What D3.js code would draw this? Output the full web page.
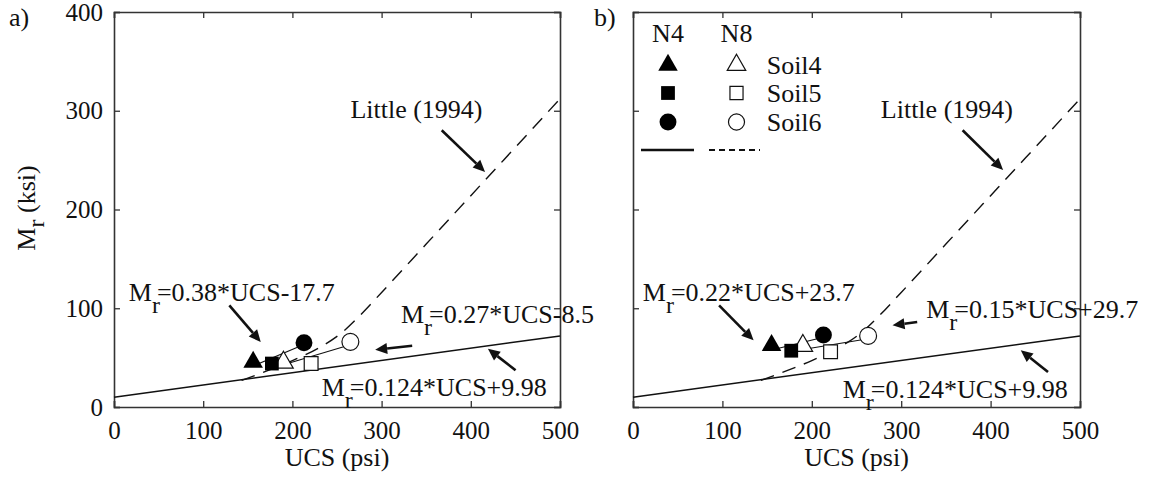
<!DOCTYPE html>
<html><head><meta charset="utf-8">
<script src="https://cdn.jsdelivr.net/npm/d3@7"></script>
<style>body{margin:0;background:#fff}text{font-family:"Liberation Serif","Times New Roman",serif;fill:#111}</style>
</head><body><svg id="c" width="1149" height="480" font-family="Liberation Serif, Times New Roman, serif"></svg>
<script>
// ---- data ----
const xTicks = [0, 100, 200, 300, 400, 500];
const yTicks = [0, 100, 200, 300, 400];
const soils = ["Soil4", "Soil5", "Soil6"];
const panels = ["a)", "b)"];
// measured points (UCS psi, Mr ksi)
const aN4UCS = [156, 177, 213], aN4Mr = [45.5, 44, 65];
const aN8UCS = [190, 221, 265], aN8Mr = [45, 44, 66];
const bN4UCS = [155, 177, 213], bN4Mr = [62.5, 57, 73];
const bN8UCS = [190, 221, 263], bN8Mr = [62, 56, 72];
// fitted lines: slope, intercept
const aFitN4 = [0.38, -17.7], aFitN8 = [0.27, -8.5];
const bFitN4 = [0.22, 23.7], bFitN8 = [0.15, 29.7];
const solidFit = [0.124, 9.98];
// Little (1994) dashed curve
const littleUCS = [143, 170, 200, 230, 255, 275, 300, 350, 400, 450, 500];
const littleMr  = [27, 36, 47, 60, 75, 92, 116, 165, 214, 263, 312];
// annotation labels
const aLabels = ["=0.38*UCS-17.7", "=0.27*UCS-8.5", "=0.124*UCS+9.98"];
const bLabels = ["=0.22*UCS+23.7", "=0.15*UCS+29.7", "=0.124*UCS+9.98"];

// ---- layout ----
const svg = d3.select("#c");
const TOP = 12, H = 395;
const boxes = [{left: 114, W: 446}, {left: 633, W: 447}];
const FS = 26;
const FF = "Liberation Serif, Times New Roman, serif";

const xScale = b => d3.scaleLinear().domain([0, 500]).range([0, b.W]);
const yScale = d3.scaleLinear().domain([0, 400]).range([H, 0]);

function sym(type, size) {
  const t = type === "triangle" ? d3.symbolTriangle : type === "square" ? d3.symbolSquare : d3.symbolCircle;
  return d3.symbol().type(t).size(size)();
}
const shapes = ["triangle", "square", "circle"];
const sizes = {triangle: 165, square: 190, circle: 225};

function mText(g, px, py, label) {
  const t = g.append("text").attr("x", px).attr("y", py).attr("dy", "0.35em")
    .attr("font-size", FS).attr("font-family", FF);
  t.append("tspan").text("M");
  t.append("tspan").attr("font-size", 24).attr("dy", 12).text("r");
  t.append("tspan").attr("dy", -12).attr("dx", -3).text(label);
  return t;
}

function arrow(g, x1, y1, x2, y2) {
  const ang = Math.atan2(y2 - y1, x2 - x1);
  const L = 12, Wd = 5.5;
  const bx = x2 - L * Math.cos(ang), by = y2 - L * Math.sin(ang);
  g.append("line").attr("x1", x1).attr("y1", y1).attr("x2", bx).attr("y2", by)
    .attr("stroke", "#111").attr("stroke-width", 2.6);
  const px = -Math.sin(ang), py = Math.cos(ang);
  g.append("path").attr("d", `M${x2},${y2}L${bx + px * Wd},${by + py * Wd}L${bx - px * Wd},${by - py * Wd}Z`)
    .attr("fill", "#111");
}

// annotation positions in data units
const annA = {
  little: {t: [265, 302], a: [367.4, 280.2, 416, 238]},
  f1: {t: [16.6, 116.5], a: [129.3, 103, 164.5, 65.8]},
  f2: {t: [321.7, 94.5], a: [334.3, 62, 292.8, 58]},
  f3: {t: [232.9, 20.3], a: [450.2, 37.2, 419.2, 59]}
};
const annB = {
  little: {t: [277.2, 302], a: [368.7, 280.2, 414, 240]},
  f1: {t: [11, 116.5], a: [96.3, 103, 134.9, 67.5]},
  f2: {t: [328, 99.5], a: [317.9, 86, 290.3, 82.7]},
  f3: {t: [234.6, 18.5], a: [464.2, 35.4, 433.7, 57.4]}
};

const pdata = [
  {n4u: aN4UCS, n4m: aN4Mr, n8u: aN8UCS, n8m: aN8Mr, f4: aFitN4, f8: aFitN8, labels: aLabels, ann: annA},
  {n4u: bN4UCS, n4m: bN4Mr, n8u: bN8UCS, n8m: bN8Mr, f4: bFitN4, f8: bFitN8, labels: bLabels, ann: annB}
];

boxes.forEach((b, i) => {
  const xs = xScale(b), y = yScale;
  const g = svg.append("g").attr("transform", `translate(${b.left},${TOP})`);
  const d = pdata[i];

  // axes
  const ax = g.append("g").attr("transform", `translate(0,${H})`)
    .call(d3.axisBottom(xs).tickValues(xTicks).tickSize(-6).tickPadding(14.5).tickFormat(d3.format("d")));
  const axT = g.append("g").call(d3.axisTop(xs).tickValues(xTicks).tickSize(-6).tickFormat(""));
  const ayL = g.append("g").call(d3.axisLeft(y).tickValues(yTicks).tickSize(-6).tickPadding(11)
    .tickFormat(i === 0 ? d3.format("d") : ""));
  const ayR = g.append("g").attr("transform", `translate(${b.W},0)`)
    .call(d3.axisRight(y).tickValues(yTicks).tickSize(-6).tickFormat(""));
  [ax, axT, ayL, ayR].forEach(a => {
    a.attr("font-family", FF);
    a.selectAll("path").attr("stroke", "#333").attr("stroke-width", 1.6);
    a.selectAll("line").attr("stroke", "#333").attr("stroke-width", 1.3);
    a.selectAll("text").attr("font-size", 25).attr("font-family", FF).attr("fill", "#111");
  });

  // solid reference line
  g.append("line").attr("x1", xs(0)).attr("y1", y(solidFit[1]))
    .attr("x2", xs(500)).attr("y2", y(solidFit[0] * 500 + solidFit[1]))
    .attr("stroke", "#111").attr("stroke-width", 1.5);

  // Little dashed curve
  const lpts = littleUCS.map((u, k) => [u, littleMr[k]]);
  g.append("path").attr("d", d3.line().x(p => xs(p[0])).y(p => y(p[1])).curve(d3.curveMonotoneX)(lpts))
    .attr("fill", "none").attr("stroke", "#111").attr("stroke-width", 1.4).attr("stroke-dasharray", "14,9");

  // fit lines
  [[d.f4, d.n4u], [d.f8, d.n8u]].forEach(([f, us]) => {
    const u0 = d3.min(us), u1 = d3.max(us);
    g.append("line").attr("x1", xs(u0)).attr("y1", y(f[0] * u0 + f[1]))
      .attr("x2", xs(u1)).attr("y2", y(f[0] * u1 + f[1]))
      .attr("stroke", "#111").attr("stroke-width", 1.1);
  });

  // markers
  d.n8u.forEach((u, k) => {
    g.append("path").attr("d", sym(shapes[k], sizes[shapes[k]]))
      .attr("transform", `translate(${xs(u)},${y(d.n8m[k])})`)
      .attr("fill", "#fff").attr("stroke", "#111").attr("stroke-width", 1.2);
  });
  d.n4u.forEach((u, k) => {
    g.append("path").attr("d", sym(shapes[k], sizes[shapes[k]]))
      .attr("transform", `translate(${xs(u)},${y(d.n4m[k])})`)
      .attr("fill", "#000");
  });

  // annotations
  const A = d.ann;
  g.append("text").attr("x", xs(A.little.t[0])).attr("y", y(A.little.t[1])).attr("dy", "0.35em")
    .attr("font-size", FS).attr("font-family", FF).text("Little (1994)");
  arrow(g, xs(A.little.a[0]), y(A.little.a[1]), xs(A.little.a[2]), y(A.little.a[3]));
  ["f1", "f2", "f3"].forEach((key, k) => {
    mText(g, xs(A[key].t[0]), y(A[key].t[1]), d.labels[k]);
    arrow(g, xs(A[key].a[0]), y(A[key].a[1]), xs(A[key].a[2]), y(A[key].a[3]));
  });

  // x title
  g.append("text").attr("x", b.W / 2).attr("y", H + 59).attr("text-anchor", "middle")
    .attr("font-size", FS).attr("font-family", FF).text("UCS (psi)");

  // panel label
  svg.append("text").attr("x", i === 0 ? 9 : 594).attr("y", 17).attr("dy", "0.35em")
    .attr("font-size", FS).attr("font-family", FF).text(panels[i]);
});

// y title
const yt = svg.append("text").attr("transform", "translate(35,208) rotate(-90)")
  .attr("text-anchor", "middle").attr("font-size", FS).attr("font-family", FF);
yt.append("tspan").text("M");
yt.append("tspan").attr("dy", 9).attr("font-size", 24).text("r");
yt.append("tspan").attr("dy", -9).text(" (ksi)");

// legend in panel b
const lg = svg.append("g").attr("transform", `translate(${boxes[1].left},${TOP})`).attr("font-family", FF);
const colN4 = 35, colN8 = 103.5, colTxt = 133.7;
const rowY = [53, 81, 110];
lg.append("text").attr("x", colN4).attr("y", 21).attr("dy", "0.35em").attr("text-anchor", "middle").attr("font-size", FS).text("N4");
lg.append("text").attr("x", colN8).attr("y", 21).attr("dy", "0.35em").attr("text-anchor", "middle").attr("font-size", FS).text("N8");
soils.forEach((s, k) => {
  lg.append("path").attr("d", sym(shapes[k], sizes[shapes[k]])).attr("transform", `translate(${colN4},${rowY[k]})`).attr("fill", "#000");
  lg.append("path").attr("d", sym(shapes[k], sizes[shapes[k]] * 0.9)).attr("transform", `translate(${colN8},${rowY[k]})`)
    .attr("fill", "#fff").attr("stroke", "#111").attr("stroke-width", 1.2);
  lg.append("text").attr("x", colTxt).attr("y", rowY[k]).attr("dy", "0.35em").attr("font-size", FS).text(s);
});
lg.append("line").attr("x1", 8).attr("x2", 61).attr("y1", 138).attr("y2", 138).attr("stroke", "#111").attr("stroke-width", 2.4);
lg.append("line").attr("x1", 76).attr("x2", 127).attr("y1", 138).attr("y2", 138).attr("stroke", "#111").attr("stroke-width", 1.8).attr("stroke-dasharray", "6,4");
</script></body></html>
